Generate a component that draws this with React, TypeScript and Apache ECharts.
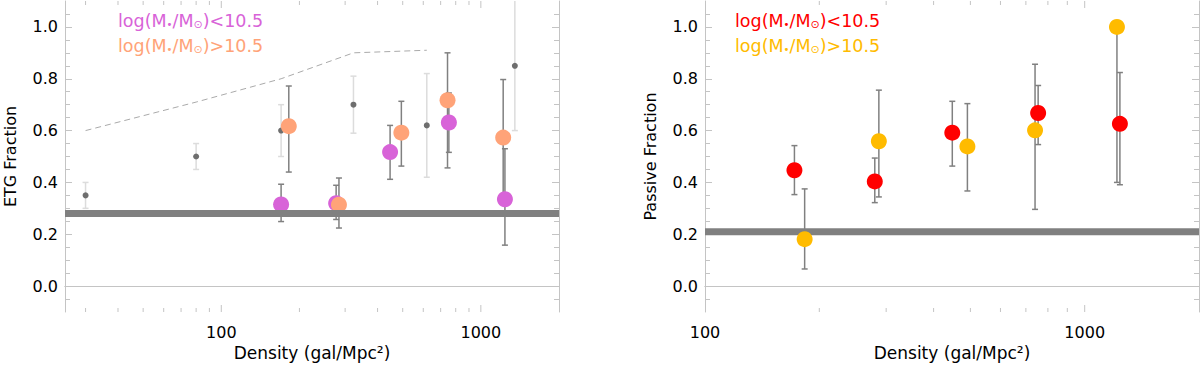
import React, { useEffect, useRef } from 'react';
import * as echarts from 'echarts';

const FONT = '"DejaVu Sans", sans-serif';

// ---------- Left panel: ETG fraction ----------
const litDensity = [30, 80, 170, 323, 619, 1352];
const litFrac = [0.35, 0.5, 0.6, 0.7, 0.62, 0.85];
const litLo = [0.3, 0.45, 0.5, 0.59, 0.42, 0.6];
const litHi = [0.4, 0.55, 0.7, 0.81, 0.82, 1.14];

const modelDensity = [30, 80, 170, 323, 619];
const modelFrac = [0.6, 0.71, 0.8, 0.9, 0.91];

const etgLowDensity = [170, 277, 447, 753, 1238];
const etgLowFrac = [0.315, 0.32, 0.517, 0.631, 0.335];
const etgLowLo = [0.249, 0.257, 0.412, 0.516, 0.158];
const etgLowHi = [0.393, 0.389, 0.62, 0.745, 0.53];

const etgHighDensity = [182, 284, 494, 744, 1219];
const etgHighFrac = [0.617, 0.314, 0.592, 0.717, 0.573];
const etgHighLo = [0.44, 0.224, 0.463, 0.456, 0.324];
const etgHighHi = [0.772, 0.417, 0.713, 0.9, 0.797];

const etgFieldLevel = 0.28;

// ---------- Right panel: passive fraction ----------
const pasLowDensity = [172, 280, 448, 754, 1238];
const pasLowFrac = [0.447, 0.404, 0.592, 0.668, 0.626];
const pasLowLo = [0.353, 0.322, 0.463, 0.546, 0.391];
const pasLowHi = [0.542, 0.494, 0.713, 0.774, 0.824];

const pasHighDensity = [183, 287, 491, 740, 1216];
const pasHighFrac = [0.181, 0.559, 0.539, 0.601, 1.0];
const pasHighLo = [0.066, 0.344, 0.367, 0.296, 0.4];
const pasHighHi = [0.375, 0.756, 0.704, 0.856, 1.0];

const pasFieldLevel = 0.21;

// ---------- Axes ----------
const leftXRange = [25, 2000];
const rightXRange = [100, 2000];
const yRange = [-0.1, 1.1];
const leftXMinorTicks = [30, 40, 50, 60, 70, 80, 90, 200, 300, 400, 500, 600, 700, 800, 900];
const leftXMajorTicks = [100, 1000];
const rightXMinorTicks = [200, 300, 400, 500, 600, 700, 800, 900];
const rightXMajorTicks = [1000];
const yMajorTicks = [0, 0.2, 0.4, 0.6, 0.8, 1.0];
const yMinorTicks = [-0.05, 0.05, 0.1, 0.15, 0.25, 0.3, 0.35, 0.45, 0.5, 0.55, 0.65, 0.7, 0.75, 0.85, 0.9, 0.95, 1.05];

const legendLow = '<10.5';
const legendHigh = '>10.5';

const COL_LOW_L = '#d863d8';
const COL_HIGH_L = '#ffa378';
const COL_LOW_R = '#ff0000';
const COL_HIGH_R = '#ffbb00';
const AXIS_COL = '#c4c4c4';
const BAR_COL = '#808080';

const zip2 = (a: number[], b: number[]) => a.map((v, i) => [v, b[i]]);
const zip4 = (a: number[], b: number[], c: number[], d: number[]) => a.map((v, i) => [v, b[i], c[i], d[i]]);

function errorBarSeries(data: number[][], color: string, xi: number, yi: number, z: number, width = 1.5) {
  return {
    type: 'custom',
    xAxisIndex: xi,
    yAxisIndex: yi,
    data,
    z,
    silent: true,
    clip: true,
    encode: { x: 0, y: [2, 3] },
    renderItem: (params: any, api: any) => {
      const xv = api.value(0);
      const p1 = api.coord([xv, api.value(2)]);
      const p2 = api.coord([xv, api.value(3)]);
      const st = { stroke: color, lineWidth: width };
      const cap = 3;
      return {
        type: 'group',
        children: [
          { type: 'line', shape: { x1: p1[0], y1: p1[1], x2: p2[0], y2: p2[1] }, style: st },
          { type: 'line', shape: { x1: p1[0] - cap, y1: p1[1], x2: p1[0] + cap, y2: p1[1] }, style: st },
          { type: 'line', shape: { x1: p2[0] - cap, y1: p2[1], x2: p2[0] + cap, y2: p2[1] }, style: st },
        ],
      };
    },
  };
}

function xTickSeries(values: number[], len: number, xi: number, yi: number) {
  return {
    type: 'custom',
    xAxisIndex: xi,
    yAxisIndex: yi,
    data: values.map((v) => [v, 0.5]),
    z: 0,
    silent: true,
    renderItem: (params: any, api: any) => {
      const x = api.coord([api.value(0), 0.5])[0];
      const cs = params.coordSys;
      const st = { stroke: AXIS_COL, lineWidth: 1 };
      const b = cs.y + cs.height;
      return {
        type: 'group',
        children: [
          { type: 'line', shape: { x1: x, y1: b, x2: x, y2: b - len }, style: st },
          { type: 'line', shape: { x1: x, y1: cs.y, x2: x, y2: cs.y + len }, style: st },
        ],
      };
    },
  };
}

function xAxes(range: number[], grid: number) {
  const isPow10 = (v: number) => Math.abs(Math.log10(v) - Math.round(Math.log10(v))) < 1e-6;
  return [
    {
      type: 'log',
      logBase: 10,
      gridIndex: grid,
      min: range[0],
      max: range[1],
      position: 'bottom',
      axisLine: { show: true, lineStyle: { color: AXIS_COL, width: 1 } },
      axisTick: { show: false },
      splitLine: { show: false },
      minorTick: { show: false },
      axisLabel: {
        show: true,
        margin: 12,
        color: '#000',
        fontSize: 16,
        fontFamily: FONT,
        formatter: (v: number) => (isPow10(v) ? String(Math.round(v)) : ''),
      },
      name: 'Density (gal/Mpc²)',
      nameLocation: 'middle',
      nameGap: 31,
      nameTextStyle: { color: '#000', fontSize: 17, fontFamily: FONT },
    },
    {
      type: 'log',
      logBase: 10,
      gridIndex: grid,
      min: range[0],
      max: range[1],
      position: 'top',
      axisLine: { show: true, lineStyle: { color: AXIS_COL, width: 1 } },
      axisTick: { show: false },
      splitLine: { show: false },
      axisLabel: { show: false },
    },
  ];
}

function yAxes(grid: number, name: string) {
  const base = {
    type: 'value',
    gridIndex: grid,
    min: yRange[0],
    max: yRange[1],
    splitLine: { show: false },
  };
  const lineOn = { show: true, lineStyle: { color: AXIS_COL, width: 1 } };
  return [
    {
      ...base,
      position: 'left',
      axisLine: lineOn,
      axisTick: { show: true, inside: true, length: 7, customValues: yMajorTicks, lineStyle: { color: AXIS_COL } },
      axisLabel: {
        show: true,
        customValues: yMajorTicks,
        margin: 7,
        color: '#000',
        fontSize: 16,
        fontFamily: FONT,
        formatter: (v: number) => v.toFixed(1),
      },
      name,
      nameLocation: 'middle',
      nameGap: 47,
      nameTextStyle: { color: '#000', fontSize: 16, fontFamily: FONT },
    },
    {
      ...base,
      position: 'left',
      axisLine: { show: false },
      axisTick: { show: true, inside: true, length: 5, customValues: yMinorTicks, lineStyle: { color: AXIS_COL } },
      axisLabel: { show: false },
    },
    {
      ...base,
      position: 'right',
      axisLine: lineOn,
      axisTick: { show: true, inside: true, length: 7, customValues: yMajorTicks, lineStyle: { color: AXIS_COL } },
      axisLabel: { show: false },
    },
    {
      ...base,
      position: 'right',
      axisLine: { show: false },
      axisTick: { show: true, inside: true, length: 5, customValues: yMinorTicks, lineStyle: { color: AXIS_COL } },
      axisLabel: { show: false },
    },
  ];
}

function legendText(left: number, top: number, suffix: string, color: string) {
  return {
    type: 'text',
    left,
    top,
    silent: true,
    style: {
      text: `{a|log(M}{s|•}{a|/M}{o|⊙}{a|)${suffix}}`,
      fill: color,
      rich: {
        a: { fontSize: 17.5, fontFamily: FONT, fill: color },
        s: { fontSize: 10, fontFamily: FONT, fill: color, padding: [7, 0, 0, 0] },
        o: { fontSize: 11, fontFamily: FONT, fill: color, padding: [7, 0, 0, 0] },
      },
    },
  };
}

function bandSeries(level: number, range: number[], xi: number, yi: number, z: number) {
  return {
    type: 'line',
    xAxisIndex: xi,
    yAxisIndex: yi,
    data: [
      [range[0], level],
      [range[1], level],
    ],
    symbol: 'none',
    silent: true,
    z,
    lineStyle: { color: BAR_COL, width: 7 },
  };
}

function scatter(data: number[][], color: string, xi: number, yi: number, z: number, size = 16) {
  return {
    type: 'scatter',
    xAxisIndex: xi,
    yAxisIndex: yi,
    data,
    z,
    silent: true,
    symbol: 'circle',
    symbolSize: size,
    itemStyle: { color, opacity: 1 },
  };
}

export default function App() {
  const ref = useRef<HTMLDivElement>(null);
  useEffect(() => {
    if (!ref.current) return;
    const chart = echarts.init(ref.current, undefined, { renderer: 'svg' });
    const option: any = {
      animation: false,
      backgroundColor: '#ffffff',
      grid: [
        { left: 65, top: 1, width: 494, height: 311, containLabel: false, outerBoundsMode: 'none' },
        { left: 705, top: 1, width: 494, height: 311, containLabel: false, outerBoundsMode: 'none' },
      ],
      xAxis: [...xAxes(leftXRange, 0), ...xAxes(rightXRange, 1)],
      yAxis: [...yAxes(0, 'ETG Fraction'), ...yAxes(1, 'Passive Fraction')],
      graphic: [
        legendText(118, 12, legendLow, COL_LOW_L),
        legendText(118, 37, legendHigh, COL_HIGH_L),
        legendText(735, 12, legendLow, COL_LOW_R),
        legendText(735, 37, legendHigh, COL_HIGH_R),
      ],
      series: [
        // left panel
        xTickSeries(leftXMinorTicks, 4, 0, 0),
        xTickSeries(leftXMajorTicks, 7, 0, 0),
        {
          type: 'line',
          xAxisIndex: 0,
          yAxisIndex: 0,
          data: zip2(modelDensity, modelFrac),
          symbol: 'none',
          silent: true,
          z: 1,
          lineStyle: { color: '#aaaaaa', width: 1, type: [6, 4] },
        },
        errorBarSeries(zip4(litDensity, litFrac, litLo, litHi), '#dcdcdc', 0, 0, 1, 1.5),
        scatter(zip2(litDensity, litFrac), '#6e6e6e', 0, 0, 2, 6),
        errorBarSeries(zip4(etgLowDensity, etgLowFrac, etgLowLo, etgLowHi), BAR_COL, 0, 0, 2),
        errorBarSeries(zip4(etgHighDensity, etgHighFrac, etgHighLo, etgHighHi), BAR_COL, 0, 0, 2),
        scatter(zip2(etgLowDensity, etgLowFrac), COL_LOW_L, 0, 0, 3),
        scatter(zip2(etgHighDensity, etgHighFrac), COL_HIGH_L, 0, 0, 3),
        bandSeries(etgFieldLevel, leftXRange, 0, 0, 4),
        // right panel
        xTickSeries(rightXMinorTicks, 4, 2, 4),
        xTickSeries(rightXMajorTicks, 7, 2, 4),
        bandSeries(pasFieldLevel, rightXRange, 2, 4, 1),
        errorBarSeries(zip4(pasLowDensity, pasLowFrac, pasLowLo, pasLowHi), BAR_COL, 2, 4, 2),
        errorBarSeries(zip4(pasHighDensity, pasHighFrac, pasHighLo, pasHighHi), BAR_COL, 2, 4, 2),
        scatter(zip2(pasLowDensity, pasLowFrac), COL_LOW_R, 2, 4, 3),
        scatter(zip2(pasHighDensity, pasHighFrac), COL_HIGH_R, 2, 4, 3),
      ],
    };
    chart.setOption(option);
    return () => chart.dispose();
  }, []);
  return (
    <div
      ref={ref}
      style={{ position: 'fixed', left: 0, top: 0, width: 1200, height: 367, background: '#fff' }}
    />
  );
}
